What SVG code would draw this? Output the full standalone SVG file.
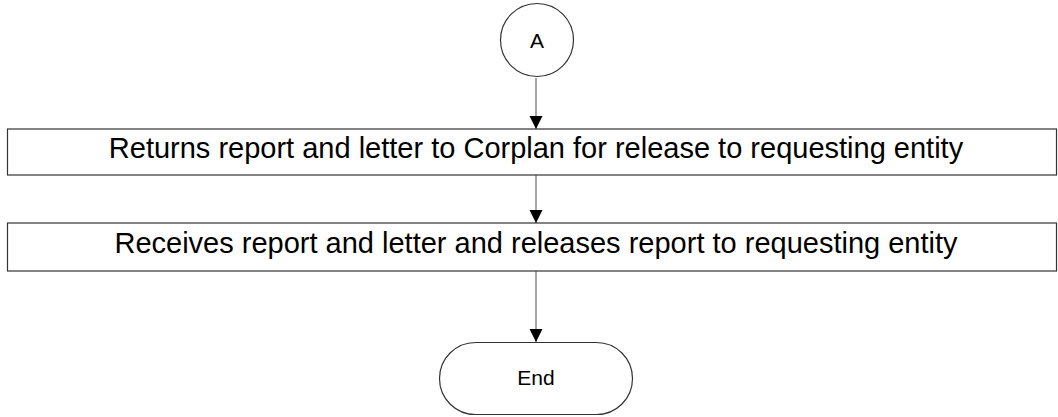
<svg xmlns="http://www.w3.org/2000/svg" width="1058" height="417" viewBox="0 0 1058 417">
<style>
.shape{fill:#fff;stroke:#333;stroke-width:1.2}
.big{font-family:"Liberation Sans",Arial,sans-serif;font-size:29px;fill:#000}
.small{font-family:"Liberation Sans",Arial,sans-serif;font-size:21px;fill:#000}
.conn{stroke:#777;stroke-width:1.3;fill:none;marker-end:url(#arr)}
</style>
<defs>
<marker id="arr" markerWidth="14" markerHeight="14" refX="13" refY="7" orient="auto" markerUnits="userSpaceOnUse">
<path d="M0,0.5 L13,7 L0,13.5 Z" fill="#000"/>
</marker>
</defs>
<rect width="1058" height="417" fill="#fff"/>
<g id="connectors">
<line class="conn" x1="536" y1="78" x2="536" y2="129"/>
<line class="conn" x1="536" y1="175" x2="536" y2="223"/>
<line class="conn" x1="536" y1="271" x2="536" y2="342"/>
</g>
<g id="nodeA">
<circle class="shape" cx="537" cy="40" r="36.5"/>
<text class="small" x="537" y="48" text-anchor="middle">A</text>
</g>
<g id="node1">
<rect class="shape" x="7.5" y="129" width="1049" height="46"/>
<text class="big" x="536" y="158" text-anchor="middle">Returns report and letter to Corplan for release to requesting entity</text>
</g>
<g id="node2">
<rect class="shape" x="7.5" y="223" width="1049" height="48"/>
<text class="big" x="536" y="253" text-anchor="middle">Receives report and letter and releases report to requesting entity</text>
</g>
<g id="end">
<rect class="shape" x="439.5" y="342.5" width="193" height="72" rx="36" ry="36"/>
<text class="small" x="536" y="385" text-anchor="middle">End</text>
</g>
</svg>
